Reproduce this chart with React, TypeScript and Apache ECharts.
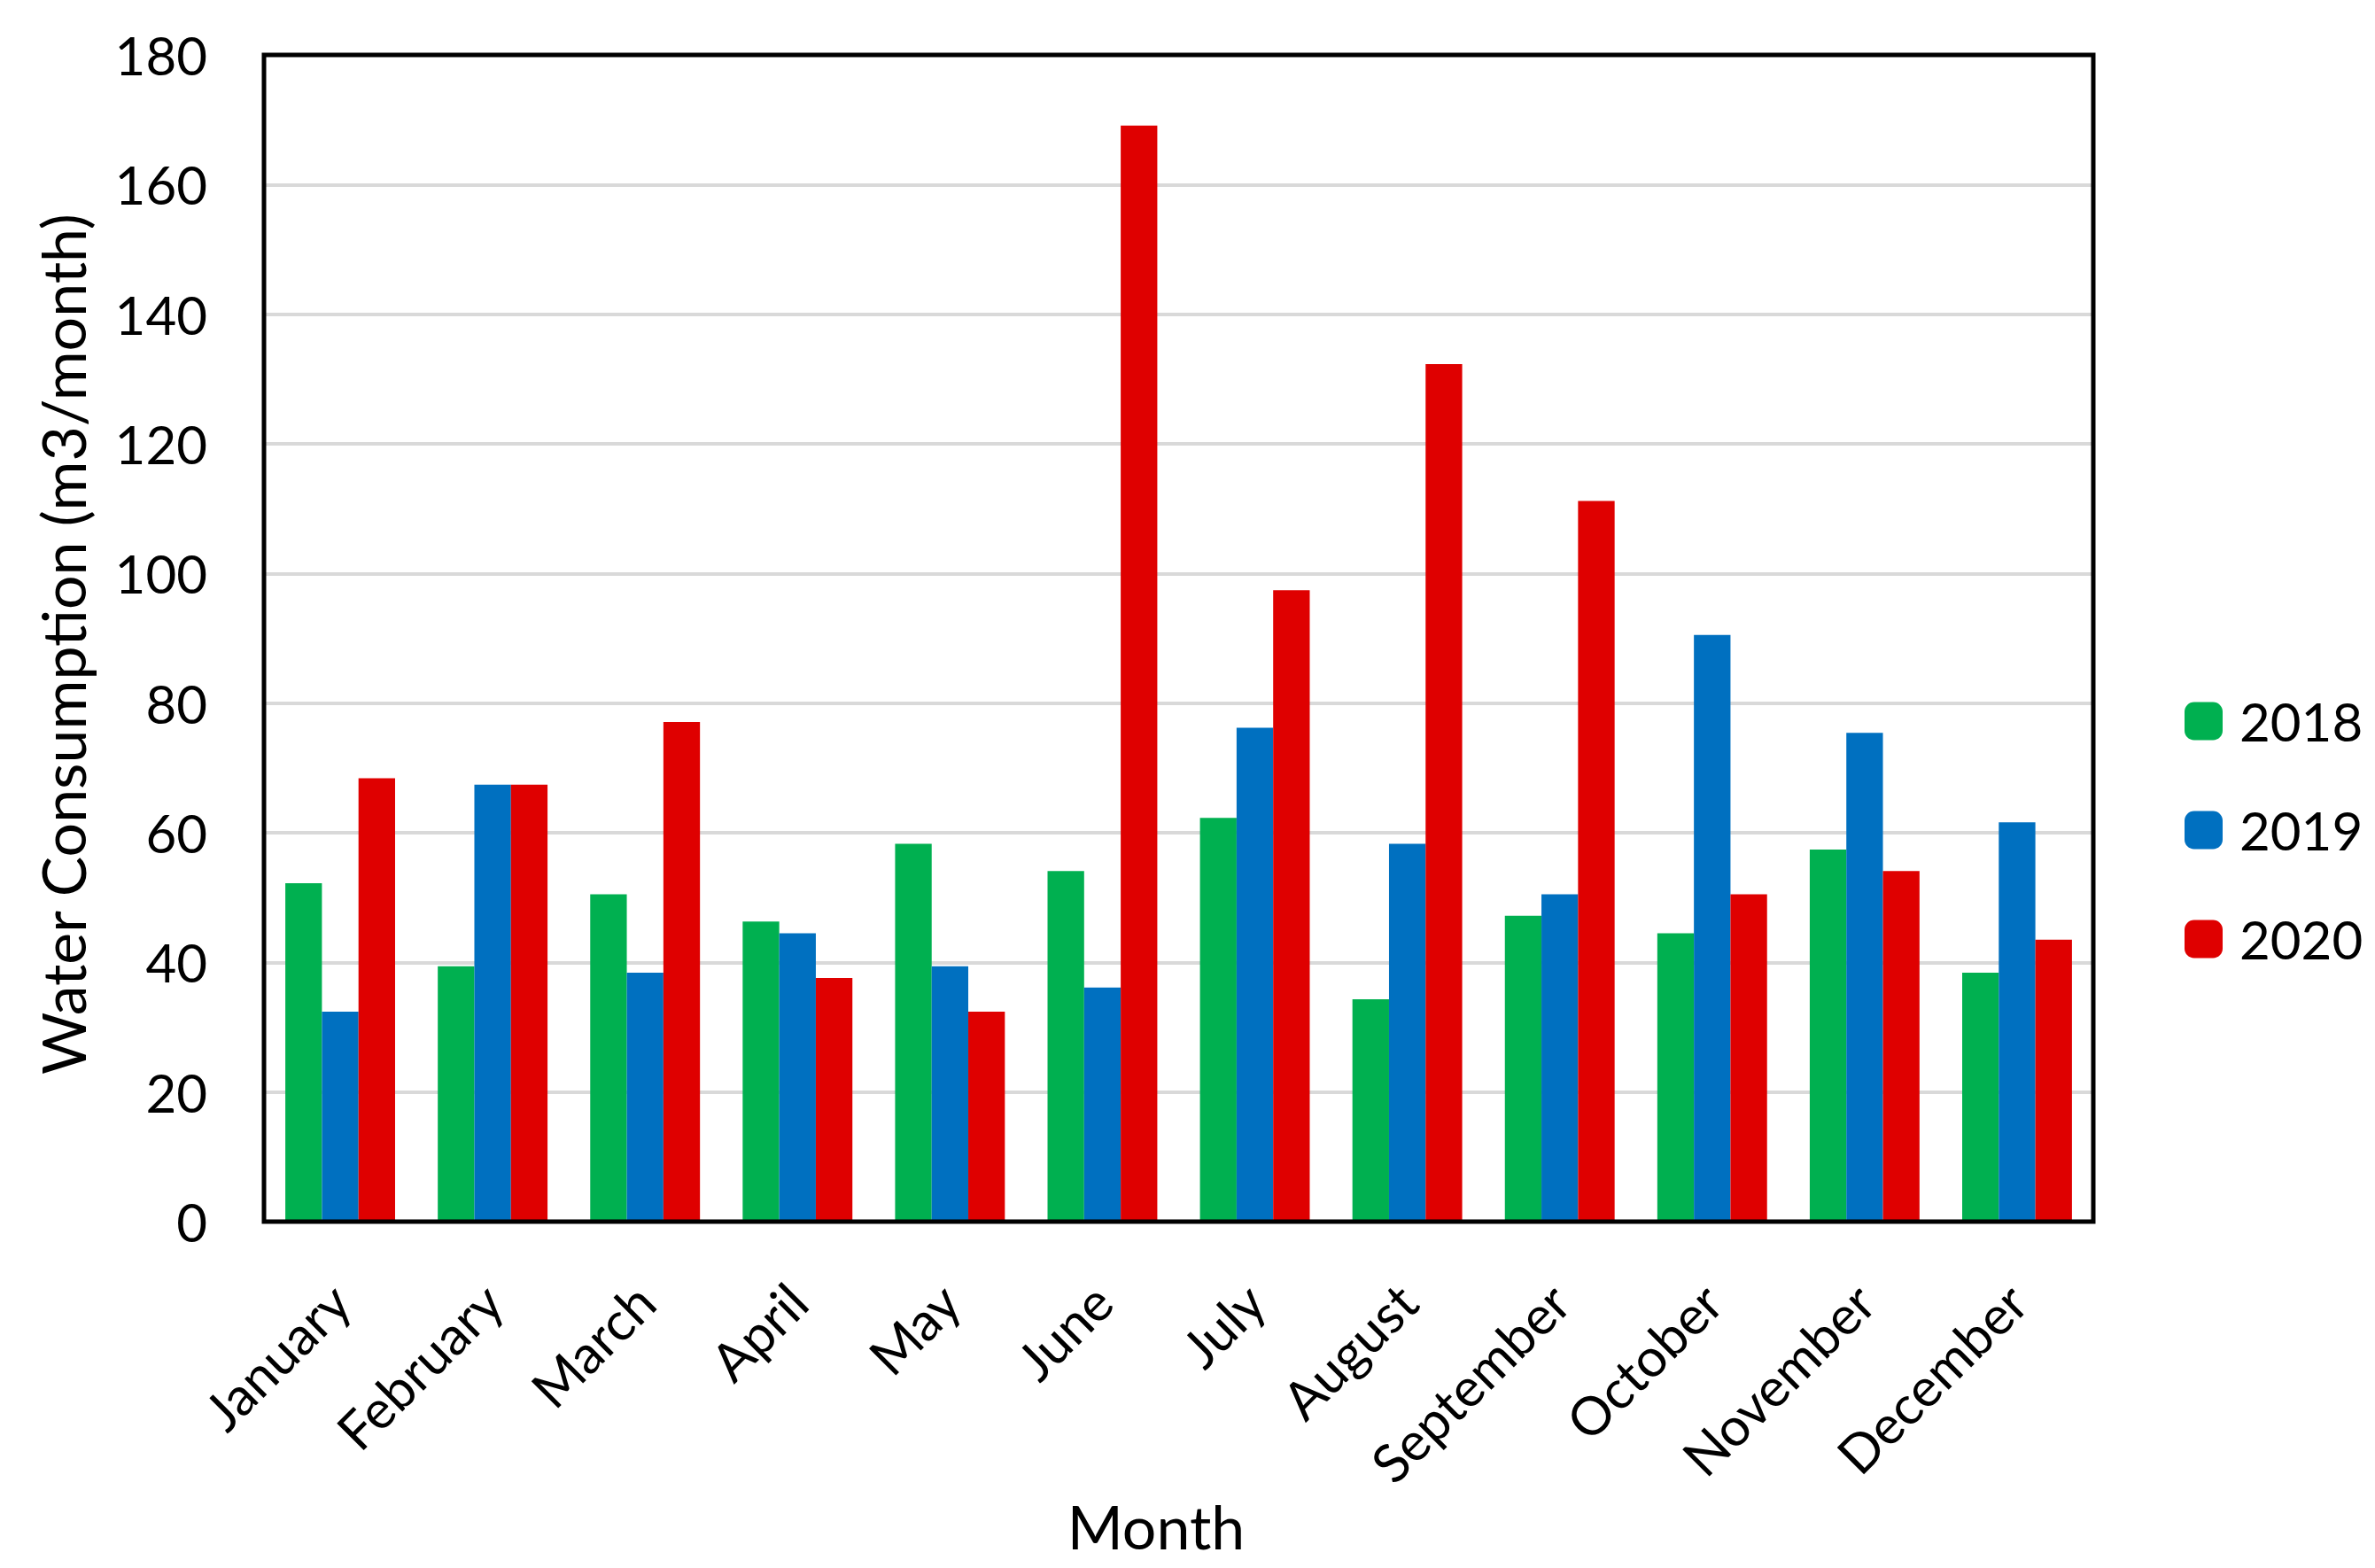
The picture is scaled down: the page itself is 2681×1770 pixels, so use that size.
import React, { useEffect, useRef } from "react";
import * as echarts from "echarts";

const months = ["January", "February", "March", "April", "May", "June", "July", "August", "September", "October", "November", "December"];
const years = ["2018", "2019", "2020"];
const values2018 = [52.2, 39.4, 50.5, 46.3, 58.3, 54.1, 62.3, 34.3, 47.2, 44.5, 57.4, 38.4];
const values2019 = [32.4, 67.4, 38.4, 44.5, 39.4, 36.1, 76.2, 58.3, 50.5, 90.5, 75.4, 61.6];
const values2020 = [68.4, 67.4, 77.1, 37.6, 32.4, 169.1, 97.4, 132.3, 111.2, 50.5, 54.1, 43.5];
const colors = ["#00B050", "#0070C0", "#DF0000"];
const yTitle = "Water Consumption (m3/month)";
const xTitle = "Month";

const FONT = "Lato";

export default function App() {
  const ref = useRef<HTMLDivElement>(null);
  useEffect(() => {
    if (!ref.current) return;
    const chart = echarts.init(ref.current, undefined, { renderer: "svg" });
    const seriesData = [values2018, values2019, values2020];
    chart.setOption({
      animation: false,
      backgroundColor: "#ffffff",
      textStyle: { fontFamily: FONT },
      grid: {
        left: 298,
        top: 62,
        width: 2065,
        height: 1317,
        show: true,
        borderColor: "#000000",
        borderWidth: 5,
        backgroundColor: "transparent",
        z: 3,
      },
      legend: {
        orient: "vertical",
        left: 2461,
        top: 779,
        itemWidth: 43,
        itemHeight: 43,
        itemGap: 63,
        icon: "roundRect",
        data: years,
        textStyle: {
          fontFamily: FONT,
          fontSize: 60,
          lineHeight: 43,
          color: "#000",
          padding: [0, 0, 0, 14],
        },
      },
      xAxis: {
        type: "category",
        data: months,
        axisLine: { show: false },
        axisTick: { show: false },
        axisLabel: {
          interval: 0,
          rotate: 45,
          margin: 80,
          fontSize: 60,
          fontFamily: FONT,
          color: "#000",
        },
      },
      yAxis: {
        type: "value",
        min: 0,
        max: 180,
        interval: 20,
        axisLine: { show: false },
        axisTick: { show: false },
        axisLabel: { fontSize: 60, fontFamily: FONT, color: "#000", margin: 64 },
        splitLine: { lineStyle: { color: "#D9D9D9", width: 4 } },
      },
      series: years.map((y, i) => ({
        name: y,
        type: "bar",
        data: seriesData[i],
        barGap: "0%",
        barCategoryGap: "28%",
        itemStyle: { color: colors[i] },
      })),
      graphic: [
        {
          type: "text",
          x: 70,
          y: 727,
          rotation: Math.PI / 2,
          style: {
            text: yTitle,
            fontFamily: FONT,
            fontSize: 68,
            fill: "#000",
            align: "center",
            verticalAlign: "middle",
          },
        },
        {
          type: "text",
          x: 1305,
          y: 1722,
          style: {
            text: xTitle,
            fontFamily: FONT,
            fontSize: 68,
            fill: "#000",
            align: "center",
            verticalAlign: "middle",
          },
        },
      ],
    });
    return () => chart.dispose();
  }, []);
  return (
    <div
      ref={ref}
      style={{ position: "fixed", left: 0, top: 0, width: 2681, height: 1770, background: "#fff" }}
    />
  );
}
